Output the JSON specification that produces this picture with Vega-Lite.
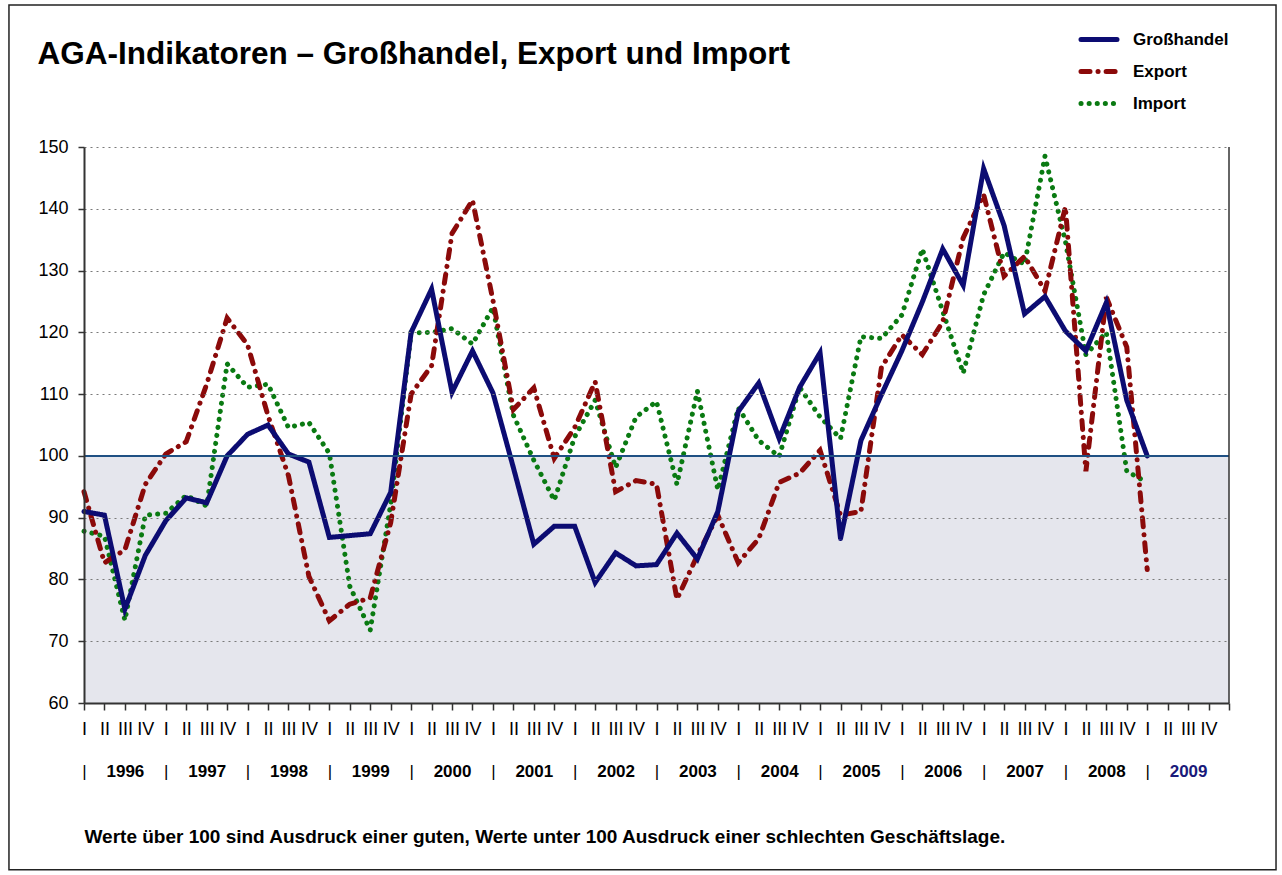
{
  "$schema": "https://vega.github.io/schema/vega-lite/v6.json",
  "width": 1145,
  "height": 556,
  "autosize": {"type": "none"},
  "padding": {"left": 84, "top": 147, "right": 53, "bottom": 172},
  "background": "white",
  "config": {
    "font": "Liberation Sans",
    "view": {"stroke": null},
    "legend": {
      "title": null,
      "orient": "none",
      "legendX": 1000.5,
      "legendY": -122,
      "direction": "vertical",
      "symbolType": "M-1.5,0H1.5",
      "symbolSize": 576,
      "symbolStrokeWidth": 5,
      "rowPadding": 7,
      "labelFontSize": 17,
      "labelFontWeight": "bold",
      "labelColor": "black",
      "labelOffset": 19.5
    }
  },
  "resolve": {"axis": {"x": "independent"}},
  "layer": [
    {
      "data": {"values": [{}]},
      "mark": {"type": "rect", "color": "#e5e6ed"},
      "encoding": {
        "x": {
          "datum": 0,
          "type": "quantitative",
          "scale": {"domain": [0, 56], "nice": false},
          "axis": {
            "orient": "bottom",
            "title": null,
            "values": [0,1,2,3,4,5,6,7,8,9,10,11,12,13,14,15,16,17,18,19,20,21,22,23,24,25,26,27,28,29,30,31,32,33,34,35,36,37,38,39,40,41,42,43,44,45,46,47,48,49,50,51,52,53,54,55,56],
            "labelExpr": "datum.value < 56 ? ['I','II','III','IV'][datum.value % 4] : ''",
            "grid": false,
            "tickSize": 7,
            "tickColor": "#333333",
            "tickWidth": 1.5,
            "domainColor": "#333333",
            "domainWidth": 2,
            "labelFontSize": 18,
            "labelColor": "black",
            "labelPadding": 10,
            "labelOverlap": false,
            "labelFlush": false,
            "labelBound": false,
            "zindex": 1
          }
        },
        "x2": {"datum": 56},
        "y": {"datum": 60, "type": "quantitative"},
        "y2": {"datum": 100}
      }
    },
    {
      "data": {
        "values": [
          {"Nr":0,"Quartal":"1996 I","Großhandel":91.0,"Export":94.2,"Import":87.8},
          {"Nr":1,"Quartal":"1996 II","Großhandel":90.4,"Export":82.7,"Import":87.0},
          {"Nr":2,"Quartal":"1996 III","Großhandel":75.2,"Export":84.8,"Import":73.4},
          {"Nr":3,"Quartal":"1996 IV","Großhandel":83.9,"Export":95.4,"Import":90.4},
          {"Nr":4,"Quartal":"1997 I","Großhandel":89.5,"Export":100.3,"Import":90.7},
          {"Nr":5,"Quartal":"1997 II","Großhandel":93.2,"Export":102.3,"Import":93.6},
          {"Nr":6,"Quartal":"1997 III","Großhandel":92.4,"Export":111.6,"Import":91.9},
          {"Nr":7,"Quartal":"1997 IV","Großhandel":100.0,"Export":122.3,"Import":114.9},
          {"Nr":8,"Quartal":"1998 I","Großhandel":103.5,"Export":118.0,"Import":111.1},
          {"Nr":9,"Quartal":"1998 II","Großhandel":105.0,"Export":106.5,"Import":111.6},
          {"Nr":10,"Quartal":"1998 III","Großhandel":100.3,"Export":96.8,"Import":104.6},
          {"Nr":11,"Quartal":"1998 IV","Großhandel":99.0,"Export":80.5,"Import":105.4},
          {"Nr":12,"Quartal":"1999 I","Großhandel":86.8,"Export":73.3,"Import":100.4},
          {"Nr":13,"Quartal":"1999 II","Großhandel":87.1,"Export":76.0,"Import":78.9},
          {"Nr":14,"Quartal":"1999 III","Großhandel":87.4,"Export":77.0,"Import":71.8},
          {"Nr":15,"Quartal":"1999 IV","Großhandel":94.1,"Export":89.2,"Import":92.2},
          {"Nr":16,"Quartal":"2000 I","Großhandel":120.0,"Export":110.0,"Import":119.9},
          {"Nr":17,"Quartal":"2000 II","Großhandel":127.0,"Export":114.6,"Import":120.0},
          {"Nr":18,"Quartal":"2000 III","Großhandel":110.3,"Export":136.0,"Import":120.6},
          {"Nr":19,"Quartal":"2000 IV","Großhandel":117.0,"Export":141.4,"Import":118.1},
          {"Nr":20,"Quartal":"2001 I","Großhandel":110.2,"Export":125.2,"Import":124.0},
          {"Nr":21,"Quartal":"2001 II","Großhandel":98.1,"Export":107.5,"Import":106.6},
          {"Nr":22,"Quartal":"2001 III","Großhandel":85.7,"Export":111.0,"Import":99.3},
          {"Nr":23,"Quartal":"2001 IV","Großhandel":88.6,"Export":99.6,"Import":92.8},
          {"Nr":24,"Quartal":"2002 I","Großhandel":88.6,"Export":104.6,"Import":103.1},
          {"Nr":25,"Quartal":"2002 II","Großhandel":79.5,"Export":112.0,"Import":109.0},
          {"Nr":26,"Quartal":"2002 III","Großhandel":84.3,"Export":94.2,"Import":98.1},
          {"Nr":27,"Quartal":"2002 IV","Großhandel":82.2,"Export":96.0,"Import":106.3},
          {"Nr":28,"Quartal":"2003 I","Großhandel":82.4,"Export":95.4,"Import":108.8},
          {"Nr":29,"Quartal":"2003 II","Großhandel":87.5,"Export":76.8,"Import":95.4},
          {"Nr":30,"Quartal":"2003 III","Großhandel":83.3,"Export":83.9,"Import":110.5},
          {"Nr":31,"Quartal":"2003 IV","Großhandel":91.0,"Export":90.4,"Import":94.5},
          {"Nr":32,"Quartal":"2004 I","Großhandel":107.2,"Export":82.7,"Import":107.8},
          {"Nr":33,"Quartal":"2004 II","Großhandel":111.8,"Export":86.6,"Import":102.5},
          {"Nr":34,"Quartal":"2004 III","Großhandel":102.8,"Export":95.7,"Import":99.9},
          {"Nr":35,"Quartal":"2004 IV","Großhandel":111.1,"Export":97.2,"Import":111.1},
          {"Nr":36,"Quartal":"2005 I","Großhandel":116.7,"Export":100.9,"Import":106.3},
          {"Nr":37,"Quartal":"2005 II","Großhandel":86.6,"Export":90.4,"Import":102.8},
          {"Nr":38,"Quartal":"2005 III","Großhandel":102.5,"Export":91.0,"Import":119.3},
          {"Nr":39,"Quartal":"2005 IV","Großhandel":109.9,"Export":114.3,"Import":119.0},
          {"Nr":40,"Quartal":"2006 I","Großhandel":117.0,"Export":119.6,"Import":122.8},
          {"Nr":41,"Quartal":"2006 II","Großhandel":124.9,"Export":116.4,"Import":133.5},
          {"Nr":42,"Quartal":"2006 III","Großhandel":133.5,"Export":121.7,"Import":123.4},
          {"Nr":43,"Quartal":"2006 IV","Großhandel":127.6,"Export":135.3,"Import":113.4},
          {"Nr":44,"Quartal":"2007 I","Großhandel":146.5,"Export":142.3,"Import":126.1},
          {"Nr":45,"Quartal":"2007 II","Großhandel":137.3,"Export":129.1,"Import":132.9},
          {"Nr":46,"Quartal":"2007 III","Großhandel":123.0,"Export":132.3,"Import":131.0},
          {"Nr":47,"Quartal":"2007 IV","Großhandel":125.8,"Export":126.7,"Import":148.5},
          {"Nr":48,"Quartal":"2008 I","Großhandel":120.2,"Export":140.3,"Import":134.7},
          {"Nr":49,"Quartal":"2008 II","Großhandel":117.0,"Export":97.5,"Import":116.4},
          {"Nr":50,"Quartal":"2008 III","Großhandel":124.8,"Export":125.7,"Import":120.0},
          {"Nr":51,"Quartal":"2008 IV","Großhandel":109.0,"Export":117.6,"Import":97.5},
          {"Nr":52,"Quartal":"2009 I","Großhandel":100.0,"Export":81.6,"Import":95.7}
        ]
      },
      "transform": [{"fold": ["Import", "Export", "Großhandel"], "as": ["Reihe", "Wert"]}],
      "mark": {"type": "line", "strokeWidth": 5, "strokeCap": "round", "strokeJoin": "miter"},
      "encoding": {
        "x": {"field": "Nr", "type": "quantitative", "axis": null},
        "y": {
          "field": "Wert",
          "type": "quantitative",
          "scale": {"domain": [60, 150], "nice": false, "zero": false},
          "axis": {
            "title": "AGA-Indikatoren – Großhandel, Export und Import",
            "titleAngle": 0,
            "titleX": -47,
            "titleY": -84,
            "titleAlign": "left",
            "titleBaseline": "alphabetic",
            "titleFontSize": 31.5,
            "titleFontWeight": "bold",
            "titleColor": "black",
            "values": [60,70,80,90,100,110,120,130,140,150],
            "grid": true,
            "gridDash": [2, 4],
            "gridWidth": 1.2,
            "gridColor": {"condition": {"test": "datum.value == 100 || datum.value == 60", "value": "rgba(0,0,0,0)"}, "value": "#7a7a7a"},
            "domainColor": "#333333",
            "domainWidth": 2,
            "tickColor": "#333333",
            "tickWidth": 1.5,
            "tickSize": 6,
            "labelFontSize": 18,
            "labelColor": "black",
            "labelPadding": 10,
            "zindex": 1
          }
        },
        "color": {
          "field": "Reihe",
          "type": "nominal",
          "scale": {"domain": ["Großhandel", "Export", "Import"], "range": ["#0c0c72", "#8b0a0a", "#0a7a12"]},
          "legend": {
            "encode": {
              "symbols": {
                "update": {
                  "strokeCap": {"value": "round"},
                  "strokeDash": {"signal": "datum.value === 'Import' ? [0.1, 17] : datum.value === 'Export' ? [10, 8.5, 0.1, 8.5, 10, 20] : [1, 0]"}
                }
              }
            }
          }
        },
        "strokeDash": {
          "field": "Reihe",
          "type": "nominal",
          "scale": {"domain": ["Großhandel", "Export", "Import"], "range": [[1, 0], [9, 8, 0.1, 8], [0.1, 8]]}
        }
      }
    },
    {
      "data": {"values": [{}]},
      "mark": {"type": "rule", "color": "#1f5083", "strokeWidth": 2},
      "encoding": {"y": {"datum": 100, "type": "quantitative"}}
    },
    {
      "data": {"values": [{}]},
      "mark": {"type": "rule", "color": "#333333", "strokeWidth": 1.5},
      "encoding": {
        "x": {
          "datum": 56,
          "type": "quantitative",
          "axis": {
            "orient": "bottom",
            "values": [0,2,4,6,8,10,12,14,16,18,20,22,24,26,28,30,32,34,36,38,40,42,44,46,48,50,52,54],
            "labelExpr": "datum.value % 4 == 0 ? '|' : '' + (1996 + (datum.value - 2) / 4)",
            "ticks": false,
            "domain": false,
            "grid": false,
            "labelFontSize": 17,
            "labelFontWeight": {"condition": {"test": "datum.value % 4 == 0", "value": "normal"}, "value": "bold"},
            "labelColor": {"condition": {"test": "datum.value == 54", "value": "#1a1a7a"}, "value": "black"},
            "labelPadding": 60,
            "labelOverlap": false,
            "labelFlush": false,
            "labelBound": false,
            "title": "Werte über 100 sind Ausdruck einer guten, Werte unter 100 Ausdruck einer schlechten Geschäftslage.",
            "titleFontSize": 19,
            "titleFontWeight": "bold",
            "titleColor": "black",
            "titleAnchor": "start",
            "titleAlign": "left",
            "titleBaseline": "top",
            "titlePadding": 48
          }
        }
      }
    },
    {
      "data": {"values": [{}]},
      "mark": {"type": "rect", "fill": null, "fillOpacity": 0, "stroke": "#222222", "strokeWidth": 1.5},
      "encoding": {
        "x": {"datum": -3.67, "type": "quantitative", "axis": null},
        "x2": {"datum": 58.3},
        "y": {"datum": 173, "type": "quantitative"},
        "y2": {"datum": 33}
      }
    }
  ]
}
